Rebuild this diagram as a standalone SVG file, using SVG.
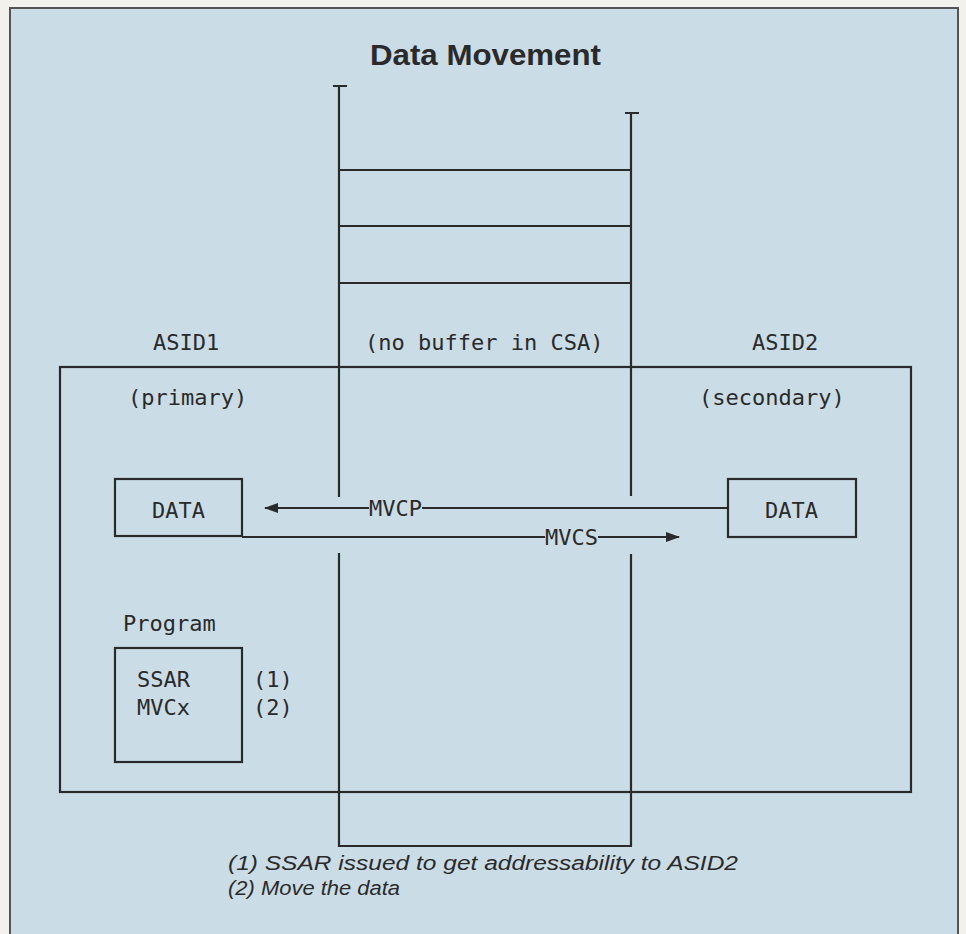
<svg xmlns="http://www.w3.org/2000/svg" width="966" height="934" viewBox="0 0 966 934">
<style>
.mono{font-family:"DejaVu Sans Mono","Liberation Mono",monospace;font-size:22px;fill:#2a2a2a}
.ln{stroke:#2a2a2a;stroke-width:2.2;fill:none}
.box{stroke:#2a2a2a;stroke-width:2.2;fill:none}
.note{font-family:"Liberation Sans",Arial,sans-serif;font-style:italic;font-size:20.5px;fill:#2a2a2a}
</style>
<defs>
<marker id="ah" markerWidth="14" markerHeight="10" refX="13" refY="5" orient="auto" markerUnits="userSpaceOnUse">
<path d="M0,0 L14,5 L0,10 Z" fill="#2a2a2a"/>
</marker>
</defs>
<rect x="0" y="0" width="966" height="934" fill="#f2f1ec"/>
<rect x="10" y="8" width="948" height="940" fill="#cadde6" stroke="#555" stroke-width="2"/>
<text x="370" y="65" textLength="231" lengthAdjust="spacingAndGlyphs" font-family="Liberation Sans,Arial,sans-serif" font-weight="bold" font-size="30" fill="#2a2a2a">Data Movement</text>
<g id="asid1-space">
<rect x="60" y="367" width="851" height="425" fill="#f8f7f3" class="box"/>
</g>
<g id="labels">
<text class="mono" x="153" y="350">ASID1</text>
<text class="mono" x="752" y="350">ASID2</text>
<text class="mono" x="365" y="350">(no buffer in CSA)</text>
<text class="mono" x="128" y="405">(primary)</text>
<text class="mono" x="699" y="405">(secondary)</text>
</g>
<g id="csa">
<path class="ln" d="M333,86 H347 M625,113 H639 M339,86 V497 M339,553 V846 H631 V554 M631,496 V113 M339,170 H631 M339,226 H631 M339,283 H631"/>
</g>
<g id="data1">
<rect class="box" x="115" y="479" width="127" height="57"/>
<text class="mono" x="152" y="518">DATA</text>
</g>
<g id="data2">
<rect class="box" x="728" y="479" width="128" height="58"/>
<text class="mono" x="765" y="518">DATA</text>
</g>
<g id="program">
<text class="mono" x="123" y="631">Program</text>
<rect class="box" x="115" y="648" width="127" height="114"/>
<text class="mono" x="137" y="687">SSAR</text>
<text class="mono" x="137" y="715">MVCx</text>
<text class="mono" x="253" y="687">(1)</text>
<text class="mono" x="253" y="715">(2)</text>
</g>
<g id="connectors">
<path class="ln" d="M728,508 H422" />
<path class="ln" d="M369,508 H265" marker-end="url(#ah)"/>
<text class="mono" x="369" y="516">MVCP</text>
<path class="ln" d="M242,537 H545"/>
<path class="ln" d="M598,537 H679" marker-end="url(#ah)"/>
<text class="mono" x="545" y="545">MVCS</text>
</g>
<g id="notes">
<text class="note" x="228" y="870" textLength="510" lengthAdjust="spacingAndGlyphs">(1) SSAR issued to get addressability to ASID2</text>
<text class="note" x="228" y="895" textLength="172" lengthAdjust="spacingAndGlyphs">(2) Move the data</text>
</g>
</svg>
